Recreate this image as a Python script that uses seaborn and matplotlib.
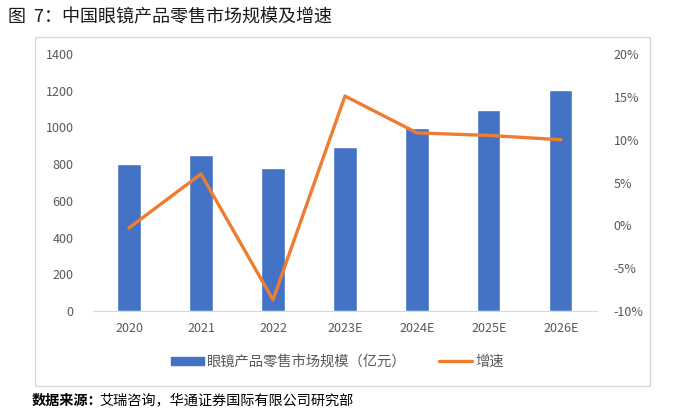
import numpy as np
import pandas as pd
import matplotlib.pyplot as plt
import seaborn as sns
from matplotlib.patches import Rectangle, Patch
from matplotlib.lines import Line2D
from matplotlib.ticker import FuncFormatter

years = ['2020', '2021', '2022', '2023E', '2024E', '2025E', '2026E']
market_size = [800, 850, 780, 895, 995, 1095, 1205]
growth = [-0.3, 6.0, -8.7, 15.1, 10.8, 10.5, 10.0]

df = pd.DataFrame({'year': years, 'size': market_size, 'growth': growth})

sns.set_style('white')
plt.rcParams['font.family'] = ['Noto Sans CJK SC', 'DejaVu Sans']

gray = '#595959'
blue = '#4472C4'
orange = '#ED7D31'

fig = plt.figure(figsize=(6.75, 4.13), dpi=100)
ax = fig.add_axes([0.1378, 0.247, 0.7466, 0.622])

sns.barplot(data=df, x='year', y='size', color=blue, width=0.32, ax=ax, saturation=1)
ax.set_ylim(0, 1400)
ax.set_yticks(range(0, 1401, 200))
ax.set_xlabel('')
ax.set_ylabel('')

ax2 = ax.twinx()
sns.lineplot(data=df, x='year', y='growth', sort=False, color=orange, linewidth=2.4, ax=ax2)
ax2.set_ylim(-10, 20)
ax2.set_yticks(range(-10, 21, 5))
ax2.yaxis.set_major_formatter(FuncFormatter(lambda v, p: f'{v:.0f}%'))
ax2.set_ylabel('')
ax.set_xlim(-0.5, 6.5)

for a in (ax, ax2):
    for s in a.spines.values():
        s.set_visible(False)
    a.tick_params(length=0, labelsize=9, colors=gray)
ax.spines['bottom'].set_visible(True)
ax.spines['bottom'].set_color('#d9d9d9')
ax.tick_params(axis='y', pad=14)
ax.tick_params(axis='x', pad=8)
ax2.tick_params(axis='y', pad=12)

# outer frame
fig.patches.append(Rectangle((35 / 675, 1 - 386 / 413), 615 / 675, 349 / 413,
                             transform=fig.transFigure, fill=False,
                             edgecolor='#d9d9d9', linewidth=1))

handles = [Patch(facecolor=blue, edgecolor=blue),
           Line2D([0], [0], color=orange, linewidth=2.4)]
fig.legend(handles, ['眼镜产品零售市场规模（亿元）', '增速'],
           loc='center', bbox_to_anchor=(0.5, 1 - 362 / 413), ncol=2,
           frameon=False, fontsize=10.3, labelcolor=gray,
           handlelength=2.3, handleheight=0.55, columnspacing=2.3, handletextpad=0.2)

fig.text(8 / 675, 1 - 17 / 413, '图  7：中国眼镜产品零售市场规模及增速',
         fontsize=13, va='center', ha='left', color='#1a1a1a')
fig.text(32 / 675, 1 - 401 / 413, '数据来源：', fontsize=10.2, fontweight='bold',
         va='center', ha='left', color='black')
fig.text(99 / 675, 1 - 401 / 413, '艾瑞咨询，华通证券国际有限公司研究部',
         fontsize=10.2, va='center', ha='left', color='black')

fig.savefig('out.png', dpi=100)
